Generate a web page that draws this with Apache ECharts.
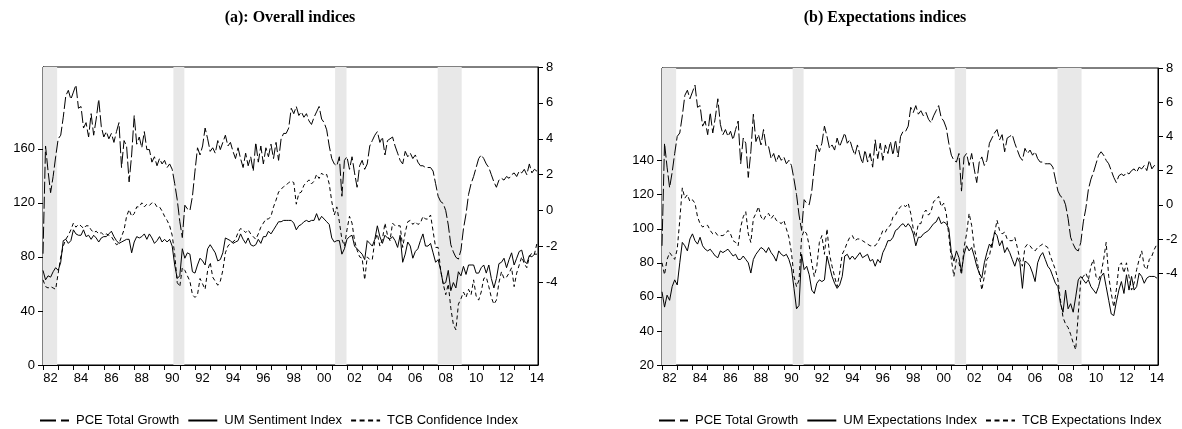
<!DOCTYPE html>
<html>
<head>
<meta charset="utf-8">
<script src="https://cdn.jsdelivr.net/npm/echarts@6/dist/echarts.min.js"></script>
<style>
html, body { margin: 0; padding: 0; background: #fff; }
#chart { width: 1182px; height: 429px; }
</style>
</head>
<body>
<div id="chart"></div>
<script>
// bi-monthly readings, Jan 1982 .. Jul 2014
var startYear = 1982;
var stepsPerYear = 6;

var tickYears = [1982, 1983, 1984, 1985, 1986, 1987, 1988, 1989, 1990, 1991, 1992, 1993, 1994, 1995, 1996, 1997,
    1998, 1999, 2000, 2001, 2002, 2003, 2004, 2005, 2006, 2007, 2008, 2009, 2010, 2011, 2012, 2013, 2014];
var yearLabels = ['82', '84', '86', '88', '90', '92', '94', '96', '98', '00', '02', '04', '06', '08', '10', '12', '14'];
var leftTicksA = [0, 40, 80, 120, 160];
var leftTicksB = [20, 40, 60, 80, 100, 120, 140];
var rightTicks = [-4, -2, 0, 2, 4, 6, 8];

// NBER recessions as drawn (start, end in decimal years)
var recessions = [[1982.0, 1982.93], [1990.58, 1991.3], [2001.22, 2001.97], [2007.97, 2009.55]];

var pceGrowth = [
    -2.4, 3.6, 2.2, 1.0, 1.9, 3.0,   // 1982
    4.0, 4.2, 5.2, 6.4, 6.7, 6.2,
    6.6, 7.0, 5.7, 5.8, 4.6, 4.9,
    4.1, 5.4, 4.2, 5.1, 6.2, 4.7,
    4.1, 4.4, 4.0, 4.3, 3.8, 4.4,
    4.9, 2.4, 3.9, 3.6, 1.6, 3.1,
    5.3, 3.7, 4.1, 3.5, 4.4, 3.4,
    3.4, 2.7, 3.0, 2.5, 2.9, 2.6,
    2.8, 2.4, 2.6, 2.3, 1.5, 0.6,    // 1990
    -0.6, -1.5, 0.3, 0.1, 0.0, 0.8,
    2.2, 3.5, 3.1, 3.6, 4.6, 4.0,
    3.3, 3.5, 3.2, 3.9, 3.4, 3.8,
    4.2, 3.6, 3.8, 3.3, 2.9, 3.5,
    2.9, 2.4, 3.2, 2.5, 3.0, 2.2,
    3.8, 2.7, 3.6, 2.6, 3.5, 3.0,
    3.7, 2.9, 3.8, 2.8, 4.0, 4.3,
    4.3, 4.6, 5.7, 5.4, 5.8, 5.3,
    5.5, 5.2, 5.4, 5.0, 4.8, 5.2,
    5.5, 5.8, 5.1, 4.9, 4.5, 3.6,    // 2000
    2.9, 2.6, 2.5, 3.0, 0.8, 2.8,
    3.0, 2.3, 3.0, 2.1, 1.3, 2.5,
    2.8, 2.3, 2.6, 3.6, 3.9, 4.2,
    4.4, 3.8, 4.1, 3.1, 3.9, 4.0,
    4.1, 3.6, 3.2, 2.8, 2.6, 3.3,
    3.0, 3.2, 2.9, 3.1, 2.7, 2.5,
    2.5, 2.4, 2.4, 2.4, 2.2, 1.5,
    0.8, 0.5, 0.4, 0.0, -0.8, -1.9,
    -2.3, -2.6, -2.7, -2.2, -1.0, -0.2,
    0.9, 1.5, 1.9, 2.4, 2.9, 3.1,    // 2010
    2.9, 2.6, 2.4, 2.0, 1.6, 1.3,
    1.7, 1.8, 1.7, 1.9, 1.8, 2.0,
    2.1, 1.9, 2.2, 2.1, 2.3, 2.0,
    2.6, 2.1, 2.3, 2.2
];

var umSentiment = [
    70, 63, 66, 65, 69, 72,   // 1982
    70, 76, 92, 93, 90, 92,
    100, 97, 96, 96, 100, 95,
    96, 93, 96, 94, 91, 94,
    95, 95, 97, 99, 95, 92,
    90, 91, 92, 93, 93, 83,
    91, 95, 94, 95, 97, 93,
    97, 94, 90, 92, 95, 91,
    93, 91, 93, 88, 74, 64,   // 1990
    66, 86, 79, 83, 82, 69,
    68, 74, 79, 77, 74, 86,
    89, 86, 83, 77, 78, 83,
    94, 93, 92, 90, 91, 92,
    97, 93, 90, 94, 89, 88,
    89, 93, 90, 95, 95, 99,
    97, 100, 103, 106, 106, 107,
    107, 107, 107, 105, 100, 103,
    104, 106, 107, 106, 107, 107,
    112, 107, 110, 108, 106, 104,   // 2000
    94, 91, 92, 92, 82, 86,
    93, 95, 96, 88, 86, 84,
    82, 78, 92, 90, 88, 93,
    103, 95, 90, 96, 94, 93,
    95, 92, 87, 96, 76, 82,
    91, 88, 79, 84, 86, 92,
    97, 88, 88, 90, 83, 76,
    78, 70, 60, 61, 70, 55,
    61, 57, 69, 66, 73, 67,
    74, 74, 74, 68, 68, 72,   // 2010
    74, 68, 74, 64, 57, 64,
    75, 76, 79, 72, 78, 83,
    74, 79, 84, 85, 77, 75,
    81, 80, 82, 82
];

var tcbConfidence = [
    63, 58, 57, 58, 57, 56,   // 1982
    68, 80, 88, 93, 96, 100,
    105, 102, 104, 103, 101, 103,
    103, 100, 98, 99, 97, 98,
    96, 97, 96, 95, 92, 89,
    90, 95, 100, 110, 115, 110,
    112, 117, 117, 120, 117, 119,
    118, 120, 120, 117, 117, 114,
    110, 107, 103, 96, 82, 61,   // 1990
    58, 72, 70, 66, 62, 52,
    50, 52, 64, 60, 56, 70,
    76, 65, 62, 59, 62, 70,
    83, 88, 90, 91, 93, 98,
    101, 100, 98, 100, 97, 95,
    93, 97, 102, 105, 108, 108,
    110, 117, 122, 128, 130, 132,
    133, 135, 136, 135, 119, 127,
    128, 133, 135, 137, 134, 136,
    141, 138, 142, 140, 141, 134,   // 2000
    121, 111, 117, 106, 93, 88,
    100, 110, 105, 92, 85, 80,
    79, 63, 80, 78, 78, 92,
    97, 88, 93, 105, 96, 92,
    105, 103, 103, 103, 87, 98,
    106, 107, 104, 106, 104, 105,
    110, 108, 108, 111, 99, 87,
    87, 70, 60, 52, 60, 42,
    30, 26, 45, 49, 54, 50,
    56, 52, 63, 51, 48, 54,   // 2010
    64, 65, 58, 50, 45, 48,
    61, 69, 64, 65, 68, 72,
    58, 68, 74, 80, 75, 72,
    80, 83, 82, 90
];

var umExpectations = [
    63, 54, 61, 58, 66, 70,   // 1982
    67, 80, 92, 90, 87, 94,
    97, 93, 91, 95, 90, 88,
    87, 88, 86, 84, 83, 87,
    86, 87, 88, 86, 84, 85,
    82, 82, 84, 82, 80, 74,
    82, 85, 87, 89, 88, 86,
    89, 86, 84, 81, 87, 85,
    84, 85, 82, 77, 65, 53,   // 1990
    55, 85, 76, 78, 73, 64,
    62, 68, 70, 69, 70, 84,
    78, 72, 68, 65, 67, 72,
    84, 85, 82, 84, 82, 84,
    86, 83, 84, 85, 81, 82,
    78, 82, 80, 86, 89, 93,
    93, 95, 99, 100, 102, 103,
    101, 103, 101, 97, 90, 95,
    95, 97, 98, 99, 101, 103,
    104, 107, 103, 104, 103, 100,   // 2000
    86, 81, 87, 83, 75, 85,
    90, 87, 89, 84, 78, 74,
    71, 80, 86, 91, 89, 98,
    96, 90, 93, 86, 89, 86,
    82, 78, 83, 80, 65, 81,
    80, 78, 74, 69, 80, 84,
    86, 82, 78, 76, 72, 68,
    66, 56, 51, 64, 53, 56,
    51, 60, 70, 72, 70, 68,
    70, 66, 64, 62, 66, 72,   // 2010
    74, 66, 58, 50, 49, 57,
    64, 69, 62, 73, 64, 72,
    64, 66, 74, 72, 68, 71,
    72, 72, 72, 71
];

var tcbExpectations = [
    80, 73, 82, 86, 84, 82,   // 1982
    88, 105, 124, 118, 120, 116,
    117, 115, 107, 103, 101, 102,
    102, 99, 97, 98, 96, 96,
    96, 97, 99, 97, 93, 92,
    90, 101, 107, 110, 97, 92,
    106, 109, 113, 107, 105, 108,
    109, 106, 108, 105, 104, 103,
    105, 100, 95, 86, 72, 66,   // 1990
    70, 95, 99, 97, 90, 80,
    72, 78, 92, 96, 85, 100,
    85, 78, 72, 66, 74, 85,
    88, 92, 95, 96, 93, 94,
    94, 93, 92, 91, 90, 90,
    90, 92, 95, 99, 98, 101,
    102, 107, 108, 111, 113, 114,
    113, 115, 109, 100, 95, 103,
    103, 109, 111, 108, 110, 116,
    117, 119, 113, 115, 109, 96,   // 2000
    82, 72, 82, 80, 73, 89,
    97, 109, 102, 89, 82, 74,
    64, 72, 82, 84, 92, 97,
    105, 99, 97, 98, 94, 93,
    93, 95, 89, 82, 78, 89,
    91, 90, 88, 87, 89, 90,
    91, 90, 89, 84, 80, 76,
    70, 58, 48, 44, 42, 38,
    33, 29, 50, 70, 72, 74,
    70, 78, 82, 72, 70, 74,   // 2010
    82, 92, 72, 62, 54, 64,
    78, 80, 74, 80, 72, 64,
    68, 76, 82, 87, 78, 76,
    82, 84, 88, 91
];

var FONT = '"Liberation Sans", Arial, sans-serif';
var LONG_DASH = [12, 3];
var SHORT_DASH = [4, 3];

function toPairs(values) {
    return values.map(function (v, i) {
        return [startYear + i / stepsPerYear, v];
    });
}

var labelYears = yearLabels.map(function (s) {
    var y = parseInt(s, 10);
    return (y > 50 ? 1900 + y : 2000 + y) + 0.5;   // label sits mid-year
});

function xAxis(gridIndex) {
    return {
        type: 'value',
        gridIndex: gridIndex,
        min: 1982,
        max: 2014.57,
        axisLine: { show: true, onZero: false, lineStyle: { color: '#000', width: 1 } },
        axisTick: { show: true, length: 5, customValues: tickYears, lineStyle: { color: '#000' } },
        axisLabel: {
            customValues: labelYears,
            formatter: function (v) { return String(Math.floor(v)).slice(2); },
            color: '#000', fontSize: 13, fontFamily: FONT, margin: 7
        },
        splitLine: { show: false }
    };
}

function yAxis(gridIndex, position, min, max, ticks) {
    return {
        type: 'value',
        gridIndex: gridIndex,
        position: position,
        min: min,
        max: max,
        axisLine: { show: true, onZero: false, lineStyle: { color: '#000', width: 1 } },
        axisTick: { show: true, length: 5, customValues: ticks, lineStyle: { color: '#000' } },
        axisLabel: { customValues: ticks, color: '#000', fontSize: 13, fontFamily: FONT, margin: 8 },
        splitLine: { show: false }
    };
}

function shading(xi, yi) {
    return {
        name: 'recession',
        type: 'line',
        xAxisIndex: xi,
        yAxisIndex: yi,
        data: [],
        z: 1,
        silent: true,
        markArea: {
            silent: true,
            itemStyle: { color: '#e8e8e8' },
            data: recessions.map(function (r) {
                return [{ xAxis: r[0] }, { xAxis: r[1] }];
            })
        }
    };
}

function lineSeries(name, values, xi, yi, dash) {
    return {
        name: name,
        type: 'line',
        xAxisIndex: xi,
        yAxisIndex: yi,
        data: toPairs(values),
        symbol: 'none',
        z: 3,
        animation: false,
        lineStyle: { color: '#000', width: 1, type: dash },
        itemStyle: { color: '#000' }
    };
}

function legend(left, names) {
    return {
        left: left,
        top: 409,
        itemWidth: 29,
        itemHeight: 10,
        itemGap: 8,
        textStyle: { color: '#000', fontSize: 13, fontFamily: FONT, padding: [0, 0, 0, 2] },
        itemStyle: { opacity: 0 },
        data: [
            { name: names[0], lineStyle: { type: [16, 5] } },
            { name: names[1], lineStyle: { type: 'solid' } },
            { name: names[2], lineStyle: { type: [5, 3.5] } }
        ]
    };
}

var myChart = echarts.init(document.getElementById('chart'));

var option = {
    animation: false,
    backgroundColor: '#fff',
    graphic: [
        {
            type: 'text', x: 290, y: 18,
            style: { text: '(a): Overall indices', textAlign: 'center', textVerticalAlign: 'middle',
                     font: 'bold 16px "Liberation Serif", "Times New Roman", serif', fill: '#000' }
        },
        {
            type: 'text', x: 885, y: 18,
            style: { text: '(b) Expectations indices', textAlign: 'center', textVerticalAlign: 'middle',
                     font: 'bold 16px "Liberation Serif", "Times New Roman", serif', fill: '#000' }
        }
    ],
    grid: [
        { left: 43, top: 67, width: 495, height: 298, show: true, borderColor: '#000', borderWidth: 1, backgroundColor: 'transparent' },
        { left: 662, top: 68, width: 496, height: 297, show: true, borderColor: '#000', borderWidth: 1, backgroundColor: 'transparent' }
    ],
    legend: [
        legend(34, ['PCE Total Growth', 'UM Sentiment Index', 'TCB Confidence Index']),
        legend(653, ['PCE Total Growth', 'UM Expectations Index', 'TCB Expectations Index'])
    ],
    xAxis: [xAxis(0), xAxis(1)],
    yAxis: [
        yAxis(0, 'left', 0, 220.5, leftTicksA),
        yAxis(0, 'right', -8.6, 8, rightTicks),
        yAxis(1, 'left', 20, 194.4, leftTicksB),
        yAxis(1, 'right', -9.37, 8, rightTicks)
    ],
    series: [
        shading(0, 0),
        shading(1, 2),
        lineSeries('PCE Total Growth', pceGrowth, 0, 1, LONG_DASH),
        lineSeries('UM Sentiment Index', umSentiment, 0, 0, 'solid'),
        lineSeries('TCB Confidence Index', tcbConfidence, 0, 0, SHORT_DASH),
        lineSeries('PCE Total Growth', pceGrowth, 1, 3, LONG_DASH),
        lineSeries('UM Expectations Index', umExpectations, 1, 2, 'solid'),
        lineSeries('TCB Expectations Index', tcbExpectations, 1, 2, SHORT_DASH)
    ]
};

myChart.setOption(option);

window.addEventListener('resize', function () {
    myChart.resize();
});
</script>
</body>
</html>
